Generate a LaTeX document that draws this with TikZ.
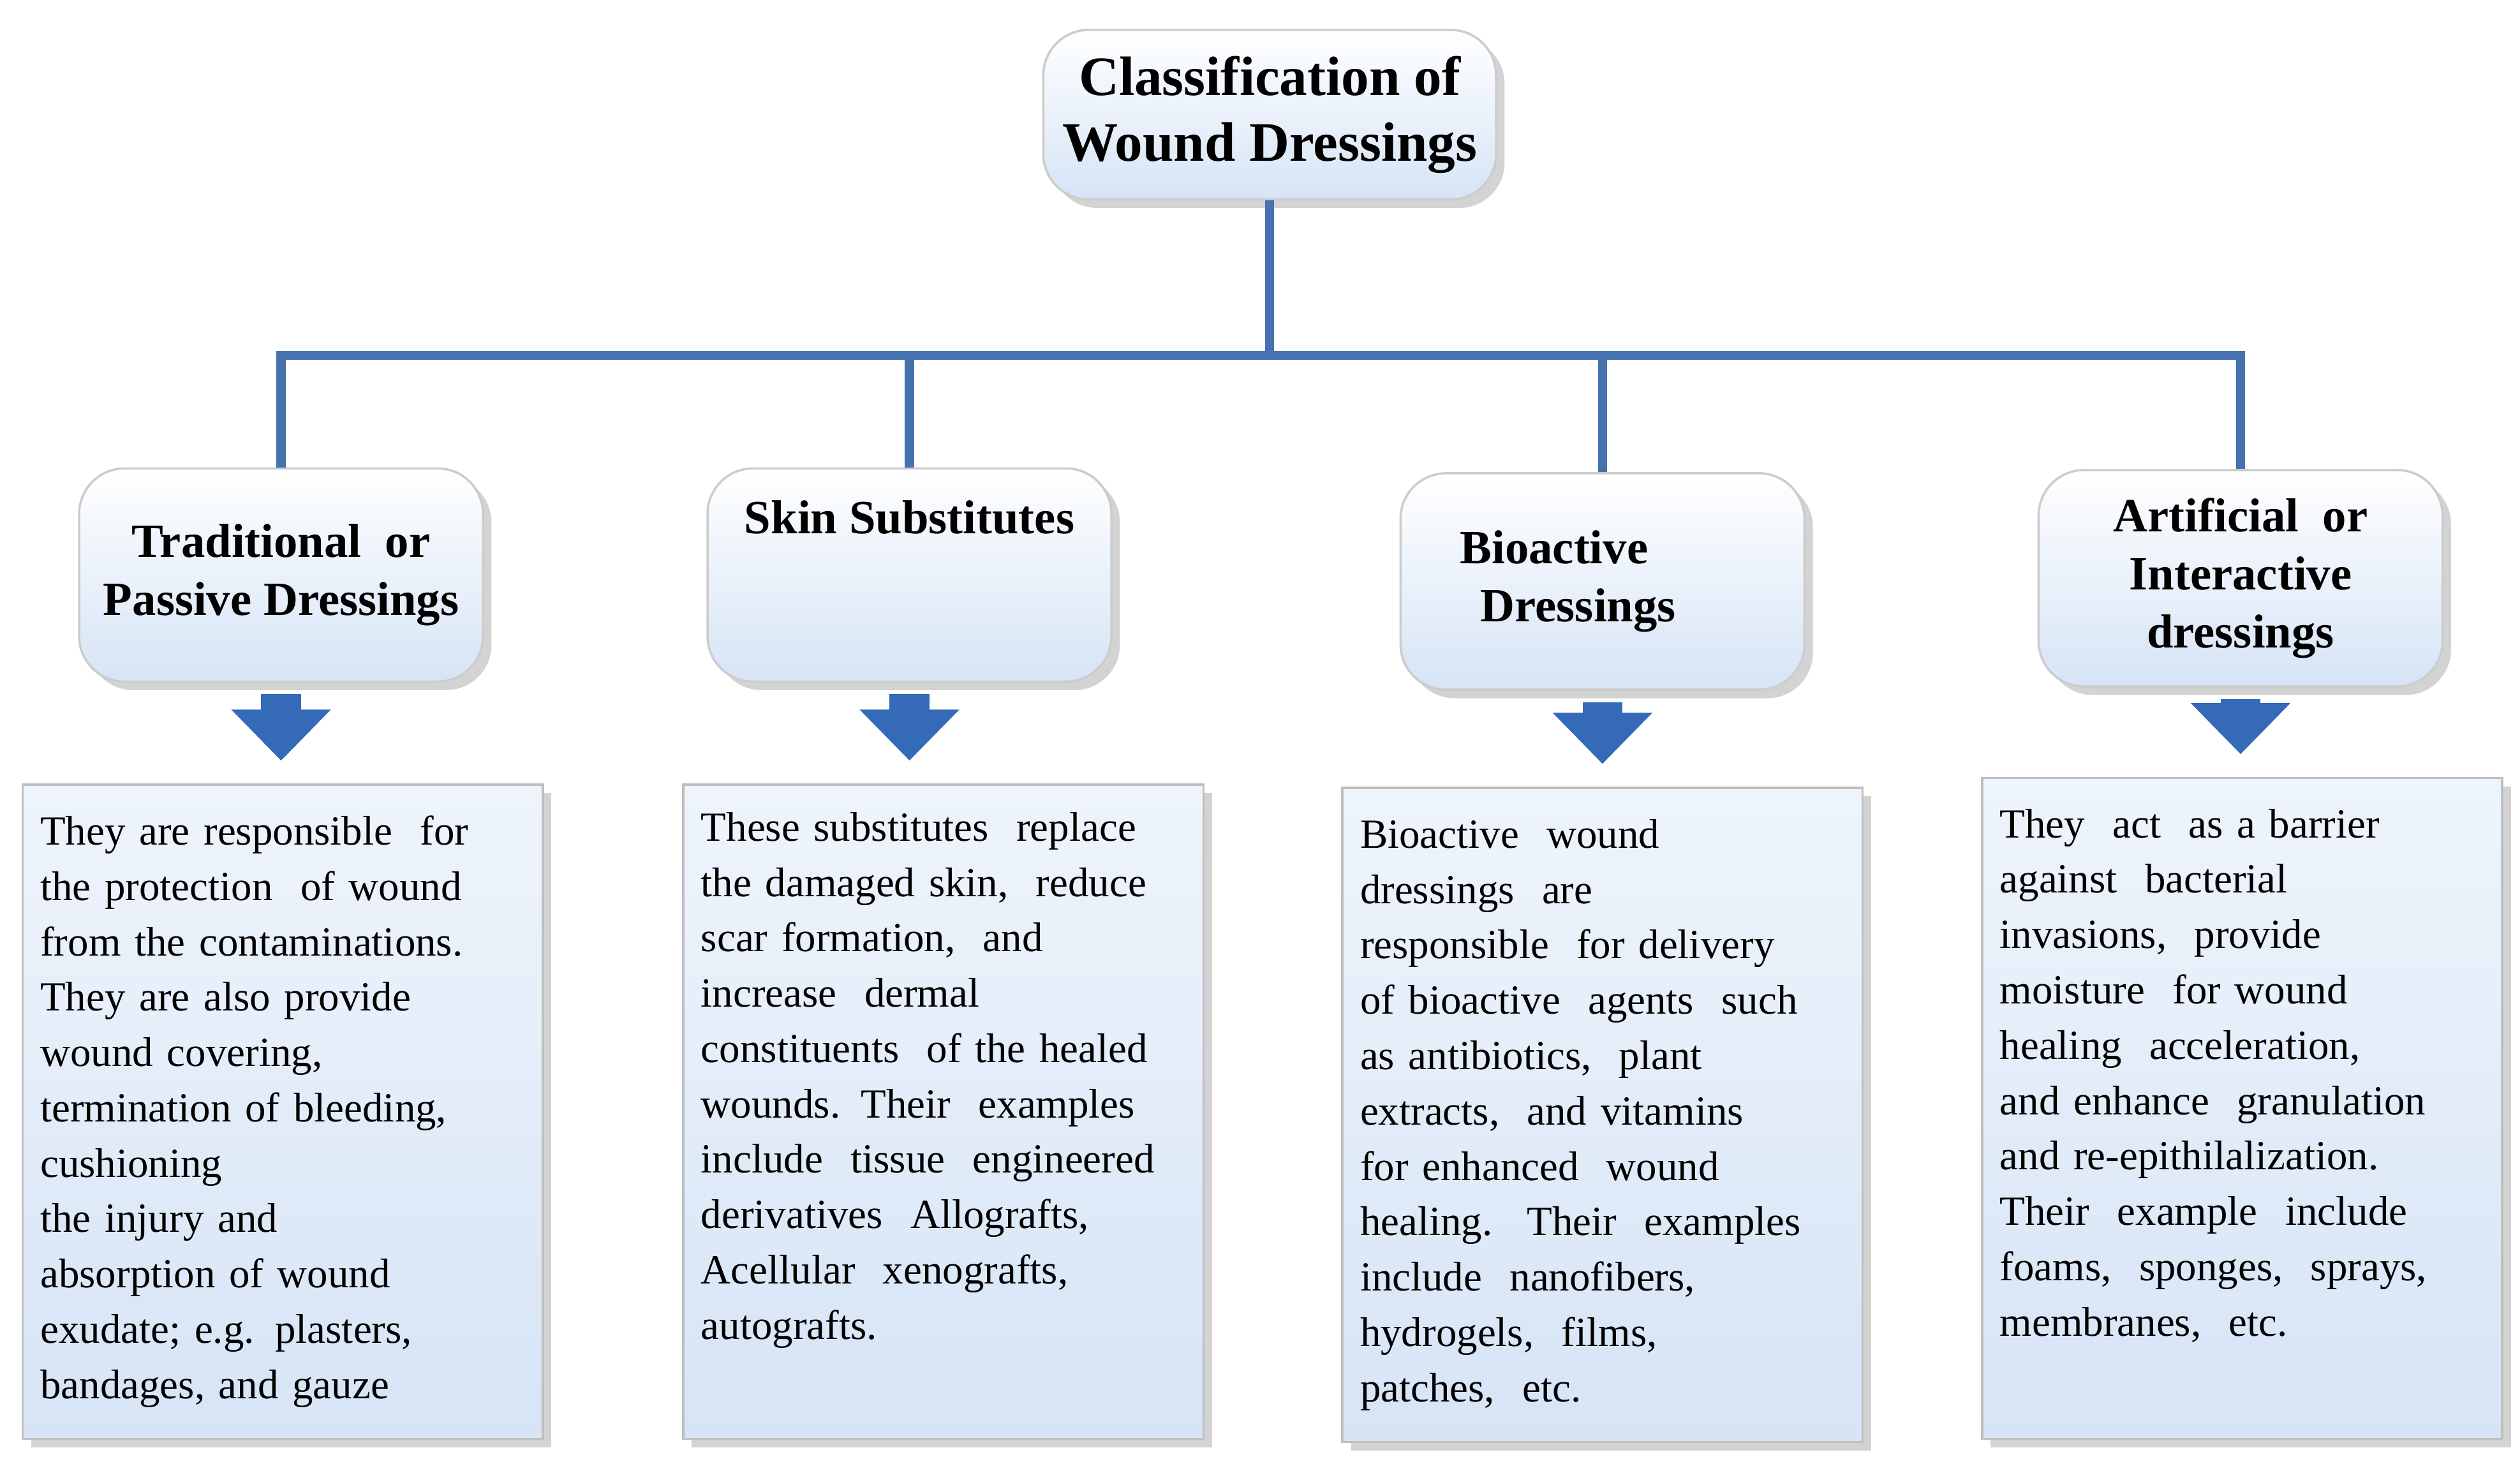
\documentclass[tikz,border=0pt]{standalone}
\usepackage{fontspec}
\setmainfont{Liberation Serif}
\usetikzlibrary{positioning,arrows.meta,shadows}
\definecolor{linkblue}{RGB}{70,114,176}
\definecolor{paleblue}{RGB}{214,228,246}
\definecolor{arrowblue}{RGB}{52,106,184}

\tikzset{
  head/.style={draw=gray!40, rounded corners=8pt, top color=white, bottom color=paleblue,
    drop shadow={opacity=0.35, shadow xshift=1.5pt, shadow yshift=-1.5pt}, minimum width=2.5cm,
    font=\bfseries\fontsize{8.4}{10.2}\selectfont, align=center},
  body/.style={draw=gray!50, top color=white!60!paleblue, bottom color=paleblue,
    drop shadow={opacity=0.35, shadow xshift=1.5pt, shadow yshift=-1.5pt},
    minimum width=3.22cm, minimum height=4.05cm, text width=3.0cm, align=left,
    font=\fontsize{7.3}{9.75}\selectfont, anchor=north, inner sep=3pt},
  link/.style={draw=linkblue, line width=1.6pt},
  down/.style={draw=arrowblue, line width=7pt, -{Triangle[width=17pt,length=9pt]}, shorten <=2pt, shorten >=4pt}
}

\begin{document}
\begin{tikzpicture}
\useasboundingbox (0,0) rectangle (15.6,9.06);

% title
\node[head, minimum width=2.72cm, minimum height=1.05cm, font=\bfseries\fontsize{9.8}{11.6}\selectfont] (top) at (7.86,8.35)
  {Classification of\\Wound Dressings};

% headings
\node[head, minimum height=1.32cm] (h1) at (1.74,5.5) {Traditional \ or\\Passive Dressings};
\node[head, minimum height=1.32cm] (h2) at (5.63,5.5) {Skin Substitutes\\[0.25cm]\strut};
\node[head, minimum height=1.34cm] (h3) at (9.92,5.46) {\hspace*{-0.6cm}Bioactive\\\hspace*{-0.3cm}Dressings};
\node[head, minimum height=1.34cm] (h4) at (13.87,5.48) {Artificial \ or\\Interactive\\dressings};

% bodies
\node[body] (t1) at (1.75,4.21) {They are responsible \ for\\the protection \ of wound\\from the contaminations.\\They are also provide\\wound covering,\\termination of bleeding,\\cushioning\\the injury and\\absorption of wound\\exudate; e.g. plasters,\\bandages, and gauze};
\node[body] (t2) at (5.84,4.21) {These substitutes \ replace\\the damaged skin, \ reduce\\scar formation, \ and\\increase \ dermal\\constituents \ of the healed\\wounds. Their \ examples\\include \ tissue \ engineered\\derivatives \ Allografts,\\Acellular \ xenografts,\\autografts.\\\strut};
\node[body] (t3) at (9.92,4.19) {Bioactive \ wound\\dressings \ are\\responsible \ for delivery\\of bioactive \ agents \ such\\as antibiotics, \ plant\\extracts, \ and vitamins\\for enhanced \ wound\\healing. \ Their \ examples\\include \ nanofibers,\\hydrogels, \ films,\\patches, \ etc.};
\node[body, minimum height=4.09cm] (t4) at (13.88,4.25) {They \ act \ as a barrier\\against \ bacterial\\invasions, \ provide\\moisture \ for wound\\healing \ acceleration,\\and enhance \ granulation\\and re-epithilalization.\\Their \ example \ include\\foams, \ sponges, \ sprays,\\membranes, \ etc.\\\strut};

% tree links
\coordinate (hub) at (top.south |- 0,6.86);
\draw[link] (top.south) -- (hub);
\draw[link] (h1.north) |- (hub) -| (h4.north);
\draw[link] (hub) -| (h2.north);
\draw[link] (hub) -| (h3.north);

% arrows
\draw[down] (h1.south) -- (h1.south |- t1.north);
\draw[down] (h2.south) -- (h2.south |- t2.north);
\draw[down] (h3.south) -- (h3.south |- t3.north);
\draw[down] (h4.south) -- (h4.south |- t4.north);
\end{tikzpicture}
\end{document}
